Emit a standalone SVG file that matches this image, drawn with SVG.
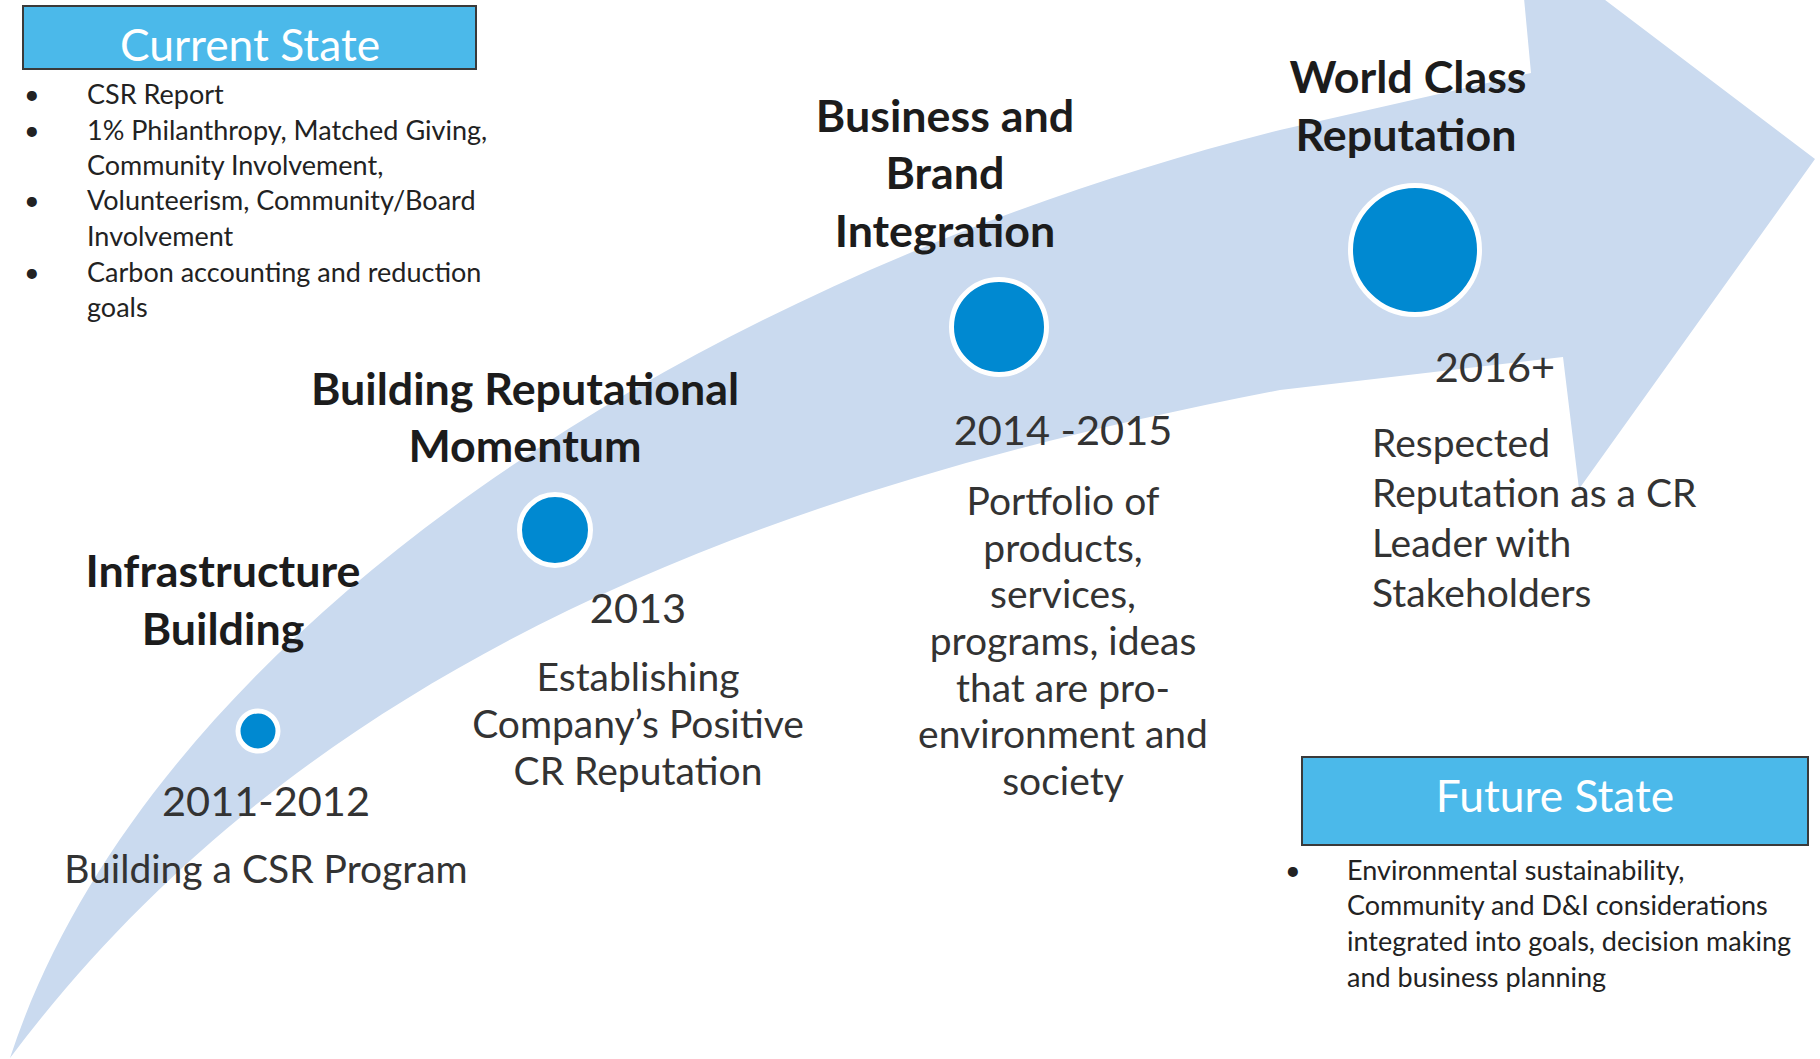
<svg xmlns="http://www.w3.org/2000/svg" width="1820" height="1059" viewBox="0 0 1820 1059">
<style>
text{font-family:Lato,"Open Sans","Liberation Sans",sans-serif}
.h{font-size:44.8px;font-weight:bold;fill:#1c1c1c;text-anchor:middle}
.yr{font-size:41.5px;fill:#333;text-anchor:middle}
.d{font-size:39px;fill:#333;text-anchor:middle}
.dl{font-size:39px;fill:#333}
.li{font-size:27px;fill:#222}
.bt{font-size:44.3px;fill:#fff;text-anchor:middle}
.box{fill:#4BB9EA;stroke:#3a3a3a;stroke-width:2}
.dot{fill:#0089D1;stroke:#fff;stroke-width:5}
</style>
<rect width="1820" height="1059" fill="#fff"/>
<g id="arrow">
<path d="M10,1058 C150,630 698,276 1280,130 L1531,73 L1518,-66 L1815,159 L1579,489 L1563,357 L1280,390 C740,494 298,674 10,1058 Z" fill="#CADAEF"/>
</g>
<g id="current-state">
<rect class="box" x="23" y="6" width="453" height="63"/>
<text class="bt" x="250" y="61">Current State</text>
<text class="li" x="24" y="104">•</text><text class="li" x="87" y="104">CSR Report</text>
<text class="li" x="24" y="140">•</text><text class="li" x="87" y="140">1% Philanthropy, Matched Giving,</text>
<text class="li" x="87" y="175">Community Involvement,</text>
<text class="li" x="24" y="210">•</text><text class="li" x="87" y="210">Volunteerism, Community/Board</text>
<text class="li" x="87" y="246">Involvement</text>
<text class="li" x="24" y="282">•</text><text class="li" x="87" y="282">Carbon accounting and reduction</text>
<text class="li" x="87" y="317">goals</text>
</g>
<g id="m1">
<circle class="dot" cx="258" cy="731" r="20"/>
<text class="h" x="223" y="587">Infrastructure</text>
<text class="h" x="223" y="645">Building</text>
<text class="yr" x="266" y="816">2011-2012</text>
<text class="d" x="266" y="883">Building a CSR Program</text>
</g>
<g id="m2">
<circle class="dot" cx="555" cy="530" r="35.5"/>
<text class="h" x="525" y="405">Building Reputational</text>
<text class="h" x="525" y="462">Momentum</text>
<text class="yr" x="638" y="623">2013</text>
<text class="d" x="638" y="691">Establishing</text>
<text class="d" x="638" y="738">Company’s Positive</text>
<text class="d" x="638" y="785">CR Reputation</text>
</g>
<g id="m3">
<circle class="dot" cx="999" cy="327" r="47.5"/>
<text class="h" x="945" y="132">Business and</text>
<text class="h" x="945" y="189">Brand</text>
<text class="h" x="945" y="247">Integration</text>
<text class="yr" x="1063" y="445">2014 -2015</text>
<text class="d" x="1063" y="515">Portfolio of</text>
<text class="d" x="1063" y="562">products,</text>
<text class="d" x="1063" y="608">services,</text>
<text class="d" x="1063" y="655">programs, ideas</text>
<text class="d" x="1063" y="702">that are pro-</text>
<text class="d" x="1063" y="748">environment and</text>
<text class="d" x="1063" y="795">society</text>
</g>
<g id="m4">
<circle class="dot" cx="1415" cy="250" r="64.5"/>
<text class="h" x="1408" y="93">World Class</text>
<text class="h" x="1406" y="151">Reputation</text>
<text class="yr" x="1495" y="382">2016+</text>
<text class="dl" x="1372" y="457">Respected</text>
<text class="dl" x="1372" y="507">Reputation as a CR</text>
<text class="dl" x="1372" y="557">Leader with</text>
<text class="dl" x="1372" y="607">Stakeholders</text>
</g>
<g id="future-state">
<rect class="box" x="1302" y="757" width="506" height="88"/>
<text class="bt" x="1555" y="812">Future State</text>
<text class="li" x="1285" y="880">•</text><text class="li" x="1347" y="880">Environmental sustainability,</text>
<text class="li" x="1347" y="915">Community and D&amp;I considerations</text>
<text class="li" x="1347" y="951">integrated into goals, decision making</text>
<text class="li" x="1347" y="987">and business planning</text>
</g>
</svg>
